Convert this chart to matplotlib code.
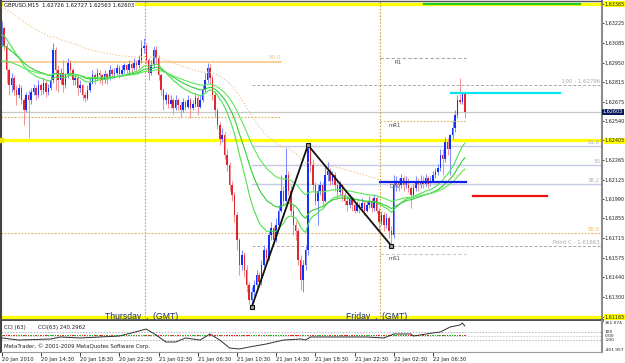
import matplotlib
matplotlib.use("Agg")
import matplotlib.pyplot as plt
from matplotlib import font_manager
import numpy as np

# ---------------- data ----------------
title_text = "GBPUSD,M15  1.62726 1.62727 1.62563 1.62603"
first_open = 1.6311
close = [1.6319, 1.6307, 1.6290, 1.6279, 1.6284, 1.6276, 1.6272, 1.6277, 1.6269, 1.6262,
         1.6272, 1.6269, 1.6274, 1.6277, 1.6272, 1.6279, 1.6276, 1.6281, 1.6274, 1.6277,
         1.6283, 1.6304, 1.6290, 1.6283, 1.6288, 1.6279, 1.6286, 1.6295, 1.6290, 1.6283,
         1.6284, 1.6277, 1.6279, 1.6272, 1.6270, 1.6276, 1.6281, 1.6286, 1.6284, 1.6288,
         1.6286, 1.6283, 1.6287, 1.6284, 1.6290, 1.6287, 1.6288, 1.6291, 1.6287, 1.6290,
         1.6293, 1.6290, 1.6294, 1.6291, 1.6295, 1.6293, 1.6297, 1.6305, 1.6307, 1.6297,
         1.6288, 1.6293, 1.6304, 1.6298, 1.6286, 1.6276, 1.6269, 1.6272, 1.6266, 1.6269,
         1.6263, 1.6269, 1.6265, 1.6262, 1.6267, 1.6264, 1.6269, 1.6263, 1.6266, 1.6270,
         1.6264, 1.6269, 1.6276, 1.6283, 1.6291, 1.6284, 1.6272, 1.6262, 1.6251, 1.6241,
         1.6244, 1.6230, 1.6223, 1.6209, 1.6202, 1.6188, 1.6170, 1.6153, 1.6160, 1.6149,
         1.6139, 1.6128, 1.6134, 1.6139, 1.6146, 1.6141, 1.6153, 1.6163, 1.6158, 1.6174,
         1.6179, 1.6170, 1.6181, 1.6191, 1.6205, 1.6198, 1.6216, 1.6205, 1.6191, 1.6181,
         1.6177, 1.6156, 1.6142, 1.6153, 1.6163, 1.6234, 1.6223, 1.6209, 1.6198, 1.6205,
         1.6209, 1.6198, 1.6216, 1.6219, 1.6212, 1.6216, 1.6209, 1.6204, 1.6209, 1.6202,
         1.6198, 1.6195, 1.6200, 1.6195, 1.6191, 1.6195, 1.6193, 1.6196, 1.6191, 1.6195,
         1.6198, 1.6193, 1.6200, 1.6191, 1.6183, 1.6188, 1.6181, 1.6186, 1.6177, 1.6174,
         1.6209, 1.6212, 1.6209, 1.6214, 1.6209, 1.6212, 1.6207, 1.6202, 1.6207, 1.6212,
         1.6209, 1.6212, 1.6210, 1.6214, 1.6210, 1.6212, 1.6216, 1.6218, 1.6221, 1.6230,
         1.6227, 1.6239, 1.6234, 1.6244, 1.6249, 1.6258, 1.6269, 1.6267, 1.62726, 1.62603]
high = [1.6324, 1.6321, 1.6309, 1.6291, 1.6288, 1.6286, 1.6279, 1.6280, 1.6279, 1.6270,
        1.6274, 1.6276, 1.6277, 1.6280, 1.6279, 1.6283, 1.6281, 1.6284, 1.6283, 1.6280,
        1.6286, 1.6309, 1.6306, 1.6293, 1.6291, 1.6297, 1.6288, 1.6298, 1.6297, 1.6291,
        1.6287, 1.6286, 1.6283, 1.6280, 1.6274, 1.6279, 1.6284, 1.6290, 1.6288, 1.6291,
        1.6290, 1.6287, 1.6290, 1.6288, 1.6293, 1.6291, 1.6291, 1.6294, 1.6293, 1.6293,
        1.6295, 1.6294, 1.6297, 1.6295, 1.6298, 1.6297, 1.6300, 1.6311, 1.6312, 1.6309,
        1.6298, 1.6297, 1.6307, 1.6307, 1.6300, 1.6288, 1.6277, 1.6274, 1.6273, 1.6272,
        1.6270, 1.6272, 1.6270, 1.6267, 1.6270, 1.6269, 1.6272, 1.6270, 1.6269, 1.6273,
        1.6272, 1.6272, 1.6279, 1.6288, 1.6295, 1.6294, 1.6286, 1.6274, 1.6263, 1.6253,
        1.6249, 1.6246, 1.6234, 1.6225, 1.6212, 1.6204, 1.6190, 1.6172, 1.6163, 1.6162,
        1.6153, 1.6141, 1.6137, 1.6142, 1.6149, 1.6148, 1.6156, 1.6167, 1.6165, 1.6177,
        1.6183, 1.6180, 1.6186, 1.6195, 1.6216, 1.6208, 1.6235, 1.6219, 1.6209, 1.6195,
        1.6184, 1.6179, 1.6160, 1.6156, 1.6167, 1.6237, 1.6236, 1.6227, 1.6211, 1.6209,
        1.6212, 1.6211, 1.6223, 1.6225, 1.6221, 1.6219, 1.6218, 1.6211, 1.6212, 1.6210,
        1.6204, 1.6201, 1.6203, 1.6201, 1.6197, 1.6198, 1.6197, 1.6200, 1.6198, 1.6198,
        1.6201, 1.6200, 1.6203, 1.6201, 1.6193, 1.6191, 1.6190, 1.6189, 1.6187, 1.6180,
        1.6216, 1.6215, 1.6214, 1.6217, 1.6215, 1.6215, 1.6214, 1.6208, 1.6210, 1.6215,
        1.6214, 1.6216, 1.6215, 1.6217, 1.6215, 1.6215, 1.6219, 1.6221, 1.6224, 1.6234,
        1.6234, 1.6243, 1.6242, 1.6245, 1.6255, 1.6262, 1.6272, 1.6284, 1.6273, 1.62727]
low = [1.6307, 1.6304, 1.6281, 1.6272, 1.6274, 1.6272, 1.6265, 1.6270, 1.6266, 1.6251,
       1.6260, 1.6242, 1.6266, 1.6272, 1.6269, 1.6270, 1.6272, 1.6273, 1.6271, 1.6272,
       1.6276, 1.6281, 1.6276, 1.6274, 1.6280, 1.6274, 1.6277, 1.6284, 1.6286, 1.6279,
       1.6279, 1.6272, 1.6274, 1.6269, 1.6267, 1.6269, 1.6274, 1.6280, 1.6280, 1.6283,
       1.6281, 1.6279, 1.6281, 1.6280, 1.6283, 1.6284, 1.6284, 1.6286, 1.6284, 1.6286,
       1.6288, 1.6287, 1.6288, 1.6288, 1.6290, 1.6290, 1.6291, 1.6295, 1.6302, 1.6294,
       1.6283, 1.6286, 1.6291, 1.6294, 1.6283, 1.6272, 1.6262, 1.6266, 1.6263, 1.6263,
       1.6259, 1.6262, 1.6262, 1.6257, 1.6260, 1.6262, 1.6263, 1.6256, 1.6262, 1.6264,
       1.6258, 1.6263, 1.6267, 1.6274, 1.6281, 1.6280, 1.6269, 1.6257, 1.6248, 1.6237,
       1.6239, 1.6227, 1.6219, 1.6205, 1.6198, 1.6183, 1.6163, 1.6146, 1.6149, 1.6144,
       1.6134, 1.6125, 1.6123, 1.6131, 1.6137, 1.6138, 1.6139, 1.6151, 1.6155, 1.6156,
       1.6170, 1.6167, 1.6169, 1.6179, 1.6190, 1.6195, 1.6197, 1.6202, 1.6188, 1.6174,
       1.6170, 1.6153, 1.6135, 1.6134, 1.6149, 1.6160, 1.6218, 1.6205, 1.6195, 1.6181,
       1.6202, 1.6195, 1.6197, 1.6212, 1.6209, 1.6210, 1.6205, 1.6200, 1.6202, 1.6198,
       1.6195, 1.6191, 1.6193, 1.6191, 1.6189, 1.6190, 1.6189, 1.6191, 1.6188, 1.6190,
       1.6193, 1.6190, 1.6191, 1.6189, 1.6177, 1.6181, 1.6177, 1.6179, 1.6172, 1.61663,
       1.6172, 1.6205, 1.6205, 1.6207, 1.6205, 1.6207, 1.6204, 1.6193, 1.6200, 1.6205,
       1.6205, 1.6207, 1.6207, 1.6208, 1.6207, 1.6208, 1.6211, 1.6214, 1.6216, 1.6219,
       1.6216, 1.6225, 1.6230, 1.6216, 1.6241, 1.6246, 1.6256, 1.6266, 1.6266, 1.62563]

time_tick_bars = [0, 16, 32, 48, 64, 80, 96, 112, 128, 144, 160, 176]
time_tick_labels = ["20 Jan 2010", "20 Jan 14:30", "20 Jan 18:30", "20 Jan 22:30",
                    "21 Jan 02:30", "21 Jan 06:30", "21 Jan 10:30", "21 Jan 14:30",
                    "21 Jan 18:30", "21 Jan 22:30", "22 Jan 02:30", "22 Jan 06:30"]
day_sep_bars = [58.5, 154.5]
day_sep_labels = ["Thursday  ,  (GMT)", "Friday  ,  (GMT)"]

price_ticks = [1.63365, 1.63225, 1.63085, 1.62950, 1.62815, 1.62675, 1.62540, 1.62405,
               1.62265, 1.62125, 1.61990, 1.61855, 1.61715, 1.61575, 1.61440, 1.61300, 1.61165]
highlight_ticks = [1.63365, 1.62405, 1.61165]
last_price = 1.62603

ma_periods = [21, 34, 55]
ma_seeds = [1.6314, 1.6306, 1.6295]
slow_ma_period = 89
slow_ma_seed = 1.6334

cci_bars = [0, 7, 20, 24, 32, 40, 48, 53, 56, 59, 63, 67, 71, 75, 81, 85, 89, 93, 97, 101,
            108, 115, 122, 124, 126, 135, 149, 156, 160, 167, 168, 176, 179, 183, 187, 188, 189]
cci_vals = [-57, -107, -82, -33, -57, -33, -8, 66, 115, 164, 17, -156, -156, -57, -107, 41,
            -107, -303, -328, -279, -205, -107, -82, -107, -33, -33, -33, -57, 41, 41, -8,
            66, 90, 213, 263, 312, 240.2962]
cci_top, cci_bottom = 361.074, -401.957

zigzag_bars = [102, 125, 159]

# Fibonacci expansion (drawn from point A to the right edge)
fib_start_bar = 102
point_c = 1.61663
fib_100 = 1.62796
fib_ratios = [0.382, 0.5, 0.618]
fib_labels = ["38.2", "50", "61.8"]

# Orange retracement levels
orange_50_top = 1.62954
orange_dot_top = 1.62565
orange_end_bar = 114
orange_50_low = 1.61752

# Daily pivot levels (Friday)
pivot_names = ["R1", "mR1", "DPV", "mS1"]
pivot_levels = [1.62982, 1.62541, 1.62111, 1.61604]
pivot_start, pivot_end = 154.5, 189.5

yellow_levels = [1.63365, 1.62405, 1.61165]
cyan_level, cyan_span = 1.62733, (183.4, 227.9)
red_level, red_span = 1.62009, (192.4, 222.6)
green_level, green_span = 1.63365, (172.4, 236.0)

# ---------------- figure ----------------
names = {f.name for f in font_manager.fontManager.ttflist}
NARROW = "Liberation Sans Narrow" if "Liberation Sans Narrow" in names else "DejaVu Sans"
NS = 1.0 if NARROW == "Liberation Sans Narrow" else 0.78
plt.rcParams["font.family"] = [NARROW, "DejaVu Sans"]

W, H = 625, 363
fig = plt.figure(figsize=(W / 100, H / 100), dpi=100)
fig.patch.set_facecolor("white")


def rect(x0, y0, x1, y1):
    return [x0 / W, 1 - y1 / H, (x1 - x0) / W, (y1 - y0) / H]


def fpos(x, y):
    return x / W, 1 - y / H


ax = fig.add_axes(rect(1, 1, 602, 320))
ax_cci = fig.add_axes(rect(1, 321, 602, 352))
XL = (-0.29, 245.0)
for a in (ax, ax_cci):
    a.set_xlim(*XL)
    a.set_facecolor("white")
ax.set_ylim(1.61141, 1.63383)

n = len(close)
idx = np.arange(n)
c = np.array(close)
h = np.array(high)
l = np.array(low)
o = np.concatenate([[first_open], c[:-1]])
up = c >= o

# horizontal objects (under candles)
for lv in yellow_levels:
    ax.axhline(lv, color="#ffff00", lw=2.3, zorder=1.5)
ax.plot([XL[0]], [yellow_levels[1]], marker="s", ms=3.5, color="#f0e000", zorder=6, clip_on=False)
ax.axhline(last_price, color="#c8c8c8", lw=0.9, zorder=1.2)
ax.plot([XL[0], orange_end_bar], [orange_50_top] * 2, color="#f7c885", lw=1.2, zorder=1.4)
ax.plot([XL[0], orange_end_bar], [orange_dot_top] * 2, color="#dcae5a", lw=0.8, ls=(0, (1.5, 1.5)), zorder=1.4)
ax.annotate("50.0", (orange_end_bar, orange_50_top), xytext=(0, 2), textcoords="offset pixels",
            ha="right", va="bottom", fontsize=5 * NS, color="#f0c070", zorder=6)
ax.axhline(orange_50_low, color="#dcae5a", lw=0.8, ls=(0, (1.5, 1.5)), zorder=1.4)
ax.annotate("50.0", (XL[1], orange_50_low), xytext=(-2, 1), textcoords="offset pixels",
            ha="right", va="bottom", fontsize=5 * NS, color="#f0b850", zorder=6)

# fib expansion
fib_levels = [point_c + r * (fib_100 - point_c) for r in fib_ratios]
for lv, lab in zip(fib_levels, fib_labels):
    ax.plot([fib_start_bar, XL[1]], [lv, lv], color="#c4cbe6", lw=1.0, zorder=1.3)
    ax.annotate(lab, (XL[1], lv), xytext=(-2, 1), textcoords="offset pixels",
                ha="right", va="bottom", fontsize=5 * NS, color="#b0b0b0", zorder=6)
for lv, lab in [(fib_100, "100 - 1.62796"), (point_c, "Point C - 1.61663")]:
    ax.plot([fib_start_bar, XL[1]], [lv, lv], color="#a8a8a8", lw=0.7, ls=(0, (3, 2)), zorder=1.3)
    ax.annotate(lab, (XL[1], lv), xytext=(-2, 1), textcoords="offset pixels",
                ha="right", va="bottom", fontsize=5 * NS, color="#a8a8a8", zorder=6)

# day separators
for b in day_sep_bars:
    ax.axvline(b, color="#c8a040", lw=0.8, ls=(0, (1.5, 1.5)), zorder=1.6)

# candles
wick_cols = ["#7f8cff" if u else "#f09595" for u in up]
body_cols = ["#1030ff" if u else "#e3262e" for u in up]
ax.vlines(idx, l, h, colors=wick_cols, lw=0.75, zorder=3)
ax.bar(idx, np.maximum(np.abs(c - o), 0.00003), bottom=np.minimum(o, c), width=0.62,
       color=body_cols, lw=0, zorder=3.2)


def ema(vals, period, seed):
    a = 2.0 / (period + 1)
    out, e = [], seed
    for v in vals:
        e = e + a * (v - e)
        out.append(e)
    return np.array(out)


for p, s, col in zip(ma_periods, ma_seeds, ["#4ee04e", "#35cc35", "#5be85b"]):
    ax.plot(idx, ema(c, p, s), color=col, lw=0.8, zorder=4)
ax.plot(idx, ema(c, slow_ma_period, slow_ma_seed), color="#f3c896", lw=0.9,
        ls=(0, (1, 1.5)), zorder=4)

# pivot levels
piv_styles = [dict(color="#a8a8a8", ls=(0, (3, 2)), lw=0.8),
              dict(color="#d8ae60", ls=(0, (1.5, 1.5)), lw=0.8),
              dict(color="#1020ee", ls="-", lw=1.6),
              dict(color="#c8c8c8", ls=(0, (3, 2)), lw=0.8)]
piv_offsets = [(14, -4), (8, -5), (9, -5), (8, -4)]
for name, lv, st, off in zip(pivot_names, pivot_levels, piv_styles, piv_offsets):
    ax.annotate(name, (pivot_start, lv), xytext=off, textcoords="offset pixels",
                ha="left", va="center", fontsize=5 * NS, color="#505050", zorder=4.5)
    ax.plot([pivot_start, pivot_end], [lv, lv], zorder=5, **st)

# colored user lines
ax.plot(cyan_span, [cyan_level] * 2, color="#00e5ee", lw=1.6, zorder=5)
ax.plot(red_span, [red_level] * 2, color="#ee1010", lw=1.6, zorder=5)
ax.plot(green_span, [green_level] * 2, color="#22cc22", lw=1.6, zorder=5)

# zigzag
zz_y = [l[zigzag_bars[0]], h[zigzag_bars[1]], l[zigzag_bars[2]]]
ax.plot(zigzag_bars, zz_y, color="#111111", lw=1.3, marker="s", ms=2.8,
        mfc="#9a9a9a", mec="#111111", mew=0.8, zorder=6)

# day labels
for b, lab in zip(day_sep_bars, day_sep_labels):
    ax.text(b - 1.5, yellow_levels[2], lab, ha="center", va="center", fontsize=6.2,
            family=["Liberation Sans", "DejaVu Sans"], color="#1c2a70", zorder=7, clip_on=True)

# title
fig.text(*fpos(4, 5), title_text, ha="left", va="center", fontsize=4.8 * NS, color="#101010",
         zorder=10, bbox=dict(facecolor="white", edgecolor="none", pad=0.6))

# right price axis
ax.set_xticks([])
ax.yaxis.tick_right()
ax.set_yticks(price_ticks)
ax.set_yticklabels([f"{p:.5f}" for p in price_ticks])
ax.tick_params(axis="y", direction="out", length=1.5, width=0.6, pad=0.4,
               labelsize=4.5 * NS, colors="#202020")
for t, p in zip(ax.get_yticklabels(), price_ticks):
    if p in highlight_ticks:
        t.set_bbox(dict(facecolor="#ffff00", edgecolor="none", pad=0.3))
ax.text(1.001, last_price, f"{last_price:.5f}", transform=ax.get_yaxis_transform(),
        ha="left", va="center", fontsize=4.5 * NS, color="white", clip_on=False, zorder=10,
        bbox=dict(facecolor="#0b1a5c", edgecolor="none", pad=0.5))

for side, col, lw in [("left", "#444444", 1.5), ("top", "#555555", 1.0),
                      ("right", "#8c8c8c", 1.5), ("bottom", "#505050", 2.0)]:
    ax.spines[side].set_color(col)
    ax.spines[side].set_linewidth(lw)

# ---------------- CCI panel ----------------
ax_cci.set_ylim(cci_bottom, cci_top)
for lv in (100, -100):
    ax_cci.axhline(lv, color="#b4b4b4", lw=0.7, ls=(0, (1.5, 1.5)))
ax_cci.axhline(0, color="#c8c8c8", lw=0.7, ls=(0, (1.5, 1.5)))
ax_cci.scatter(idx, np.zeros(n), s=1.3, marker="s", lw=0,
               c=["#22c022" if u else "#ee2020" for u in up], zorder=3)
ax_cci.plot(cci_bars, cci_vals, color="#303030", lw=0.7, zorder=4)
ax_cci.set_yticks([])
tr = ax_cci.get_yaxis_transform()
for val, txt, va in [(cci_top, "361.074", "top"), (100, "100", "center"), (0, "0.00", "center"),
                     (-100, "-100", "center"), (cci_bottom, "-401.957", "bottom")]:
    ax_cci.text(1.004, val, txt, transform=tr, ha="left", va=va, fontsize=4.1 * NS,
                color="#202020", clip_on=False)
fig.text(*fpos(4, 327), "CCI (63)", ha="left", va="center", fontsize=5 * NS, color="#202020")
fig.text(*fpos(38, 327), f"CCI(63) {cci_vals[-1]:.4f}", ha="left", va="center",
         fontsize=5 * NS, color="#202020")
fig.text(*fpos(4, 346), "MetaTrader, \u00a9 2001-2009 MetaQuotes Software Corp.", ha="left",
         va="center", fontsize=5 * NS, color="#202020")

ax_cci.set_xticks(time_tick_bars)
ax_cci.set_xticklabels(time_tick_labels, ha="left")
ax_cci.tick_params(axis="x", direction="out", length=3, width=0.6, pad=0.8,
                   labelsize=4.8 * NS, colors="#202020")
for side, col, lw in [("left", "#444444", 1.5), ("top", "#505050", 0.0),
                      ("right", "#8c8c8c", 1.5), ("bottom", "#9a9a9a", 0.8)]:
    ax_cci.spines[side].set_color(col)
    ax_cci.spines[side].set_linewidth(lw)

fig.savefig("out.png", dpi=100, facecolor="white")
